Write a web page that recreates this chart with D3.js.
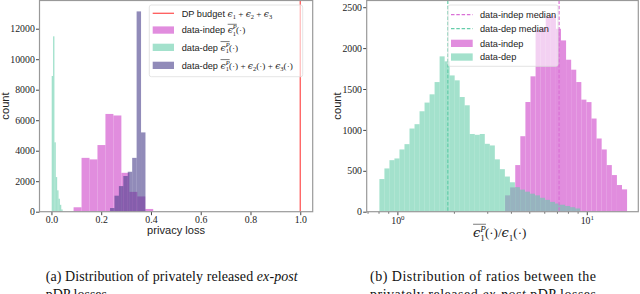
<!DOCTYPE html>
<html>
<head>
<meta charset="utf-8">
<script src="https://cdn.jsdelivr.net/npm/d3@7"></script>
<style>
body { margin: 0; background: #fff; }
svg { display: block; }
</style>
</head>
<body>
<svg id="fig" width="640" height="294"></svg>
<script>
// (a) privacy loss histograms, linear bins: start, width, counts
var depLossStart = 0.001, depLossWidth = 0.0055;
var depLossCounts = [8900, 11500, 4550, 2270, 1400, 850, 450, 150];
var indepLossStart = 0.089, indepLossWidth = 0.032;
var indepLossCounts = [290, 3530, 3430, 4370, 6410, 6310, 2550, 1300, 1000, 180];
var sumLossStart = 0.2355, sumLossWidth = 0.0178;
var sumLossCounts = [240, 1050, 1680, 2340, 2620, 3530, 13135, 5200];
var dpBudget = 1.0;
var lossTicks = [0, 0.2, 0.4, 0.6, 0.8, 1.0];
var leftCountTicks = [0, 2000, 4000, 6000, 8000, 10000, 12000];

// (b) ratio histograms, bins are equal in log10: start, width, counts
var depRatioLogStart = -0.095, depRatioLogWidth = 0.0265;
var depRatioCounts = [399, 529, 630, 651, 761, 826, 1017, 1070, 1228, 1334, 1435, 1585, 1899, 1838,
  1666, 1606, 1402, 1301, 950, 940, 950, 830, 810, 640, 520, 430, 360, 300, 270, 245, 220, 200,
  170, 145, 120, 100, 85, 70, 55, 40];
var indepRatioLogStart = 0.5686, indepRatioLogWidth = 0.02684;
var indepRatioCounts = [200, 297, 570, 923, 1341, 1655, 2224, 2250, 2387, 2400, 2236, 2094, 1858,
  1736, 1585, 1370, 1340, 1139, 895, 761, 570, 448, 326, 273];
var depMedian = 1.846, indepMedian = 7.14;
var ratioTicks = [1, 10];
var ratioMinorTicks = [0.7, 0.8, 0.9, 2, 3, 4, 5, 6, 7, 8, 9];
var rightCountTicks = [0, 500, 1000, 1500, 2000, 2500];

var sansFont = '"Liberation Sans", sans-serif';
var serifFont = '"Liberation Serif", serif';
var mathFont = '"DejaVu Serif", serif';

var pink = "#da70d6", teal = "#66cdaa", purple = "#483d8b";

var svg = d3.select("#fig");

function linBins(start, width, counts) {
  return counts.map(function(n, i) { return {x0: start + i * width, x1: start + (i + 1) * width, n: n}; });
}
function logBins(start, width, counts) {
  return counts.map(function(n, i) {
    return {x0: Math.pow(10, start + i * width), x1: Math.pow(10, start + (i + 1) * width), n: n};
  });
}

function drawHist(g, x, y, bins, color, opacity) {
  g.append("g").selectAll("rect")
    .data(bins)
    .enter()
    .append("rect")
    .attr("x", d => x(d.x0))
    .attr("width", d => x(d.x1) - x(d.x0))
    .attr("y", d => y(d.n))
    .attr("height", d => y(0) - y(d.n))
    .attr("fill", color)
    .attr("fill-opacity", opacity);
}

function styleTicks(g) {
  g.select(".domain").remove();
  g.selectAll(".tick text")
    .style("font-family", serifFont).style("font-size", "9.8px").attr("fill", "#222");
}

// text with sub/superscripts and an optional overline
function mathLabel(parent, x, y, size, segs) {
  var t = parent.append("text").attr("x", x).attr("y", y)
    .attr("font-size", size).style("white-space", "pre").attr("fill", "#222");
  var shift = 0, lastSup = null, ovl = [];
  segs.forEach(function(s) {
    var off = 0;
    if (s.k === "sub") off = size * 0.28;
    if (s.k === "sup") off = -size * 0.42;
    var sp = t.append("tspan").text(s.t).attr("dy", off - shift);
    shift = off;
    if (s.k === "sans") sp.attr("font-family", sansFont);
    else sp.attr("font-family", s.k === "it" ? mathFont : serifFont);
    if (s.k === "it" || s.it) sp.attr("font-style", "italic");
    if (s.k === "sub" || s.k === "sup") sp.attr("font-size", size * 0.7);
    if (s.k === "sup") lastSup = sp.node();
    if (s.stack && lastSup) sp.attr("dx", -lastSup.getComputedTextLength());
    if (s.bar) ovl.push(sp.node());
  });
  if (ovl.length) {
    var x0 = d3.min(ovl, n => n.getStartPositionOfChar(0).x);
    var x1 = d3.max(ovl, n => n.getStartPositionOfChar(0).x + n.getComputedTextLength());
    parent.append("line")
      .attr("x1", x0).attr("x2", x1)
      .attr("y1", y - size * 0.98).attr("y2", y - size * 0.98)
      .attr("stroke", "#222").attr("stroke-width", 0.6);
  }
  return t;
}

function epsBar() {
  return [
    {k: "it", t: "\u03f5", bar: true},
    {k: "sup", t: "P", it: true, bar: true},
    {k: "sub", t: "1", stack: true, bar: true},
    {k: "r", t: "(\u00b7)"}
  ];
}

function spines(g, x0, x1, y0, y1) {
  g.append("rect")
    .attr("x", x0).attr("y", y0)
    .attr("width", x1 - x0).attr("height", y1 - y0)
    .attr("fill", "none").attr("stroke", "#999").attr("stroke-width", 1.2);
}

// ================= (a) =================
var lx = d3.scaleLinear().domain([-0.048, 1.05]).range([39.5, 312.7]);
var ly = d3.scaleLinear().domain([0, 13850]).range([211.7, 0.5]);
var left = svg.append("g");

drawHist(left, lx, ly, linBins(indepLossStart, indepLossWidth, indepLossCounts), pink, 0.8);
drawHist(left, lx, ly, linBins(depLossStart, depLossWidth, depLossCounts), teal, 0.6);
drawHist(left, lx, ly, linBins(sumLossStart, sumLossWidth, sumLossCounts), purple, 0.6);

left.append("line")
  .attr("x1", lx(dpBudget)).attr("x2", lx(dpBudget))
  .attr("y1", ly.range()[1]).attr("y2", ly.range()[0])
  .attr("stroke", "red").attr("stroke-opacity", 0.65).attr("stroke-width", 1.3);

left.append("g").attr("color", "#444")
  .attr("transform", "translate(0,211.7)")
  .call(d3.axisBottom(lx).tickValues(lossTicks).tickFormat(d3.format(".1f")).tickSize(3.5).tickPadding(1))
  .call(styleTicks);

left.append("g").attr("color", "#444")
  .attr("transform", "translate(39.5,0)")
  .call(d3.axisLeft(ly).tickValues(leftCountTicks).tickFormat(d3.format("d")).tickSize(3.5).tickPadding(1.2))
  .call(styleTicks);

spines(left, 39.5, 312.7, 0.5, 211.7);

left.append("text")
  .attr("transform", "translate(9.3,106) rotate(-90)")
  .attr("text-anchor", "middle")
  .attr("font-family", sansFont).attr("font-size", 11.2).attr("fill", "#222")
  .text("count");

left.append("text")
  .attr("x", (39.5 + 312.7) / 2).attr("y", 234.2)
  .attr("text-anchor", "middle")
  .attr("font-family", sansFont).attr("font-size", 11.1).attr("fill", "#222")
  .text("privacy loss");

// legend (a)
var legA = left.append("g");
legA.append("rect")
  .attr("x", 149.3).attr("y", 5).attr("width", 153.4).attr("height", 71.7).attr("rx", 2)
  .attr("fill", "#fff").attr("fill-opacity", 0.6).attr("stroke", "#ddd").attr("stroke-width", 0.8);
legA.append("line").attr("x1", 152.7).attr("x2", 174).attr("y1", 13.3).attr("y2", 13.3)
  .attr("stroke", "red").attr("stroke-opacity", 0.65).attr("stroke-width", 1.3);
[[30, pink, 0.8], [47.3, teal, 0.6], [65.3, purple, 0.6]].forEach(function(h) {
  legA.append("rect").attr("x", 152.7).attr("y", h[0] - 3.6).attr("width", 21.3).attr("height", 7.3)
    .attr("fill", h[1]).attr("fill-opacity", h[2]);
});
var lfs = 9.2;
mathLabel(legA, 181.7, 16.6, lfs, [
  {k: "sans", t: "DP budget "},
  {k: "it", t: "\u03f5"}, {k: "sub", t: "1"}, {k: "r", t: " + "},
  {k: "it", t: "\u03f5"}, {k: "sub", t: "2"}, {k: "r", t: " + "},
  {k: "it", t: "\u03f5"}, {k: "sub", t: "3"}
]);
mathLabel(legA, 181.7, 33.3, lfs, [{k: "sans", t: "data-indep "}].concat(epsBar()));
mathLabel(legA, 181.7, 50.6, lfs, [{k: "sans", t: "data-dep "}].concat(epsBar()));
mathLabel(legA, 181.7, 68.6, lfs, [{k: "sans", t: "data-dep "}].concat(epsBar()).concat([
  {k: "r", t: " + "}, {k: "it", t: "\u03f5"}, {k: "sub", t: "2"}, {k: "r", t: "(\u00b7) + "},
  {k: "it", t: "\u03f5"}, {k: "sub", t: "3"}, {k: "r", t: "(\u00b7)"}
]));

// ================= (b) =================
var rx = d3.scaleLog().domain([Math.pow(10, -0.162), Math.pow(10, 1.272)]).range([366.7, 638.3]);
var ry = d3.scaleLinear().domain([0, 2582]).range([211.7, 0.5]);
var right = svg.append("g");

drawHist(right, rx, ry, logBins(indepRatioLogStart, indepRatioLogWidth, indepRatioCounts), pink, 0.8);
drawHist(right, rx, ry, logBins(depRatioLogStart, depRatioLogWidth, depRatioCounts), teal, 0.6);

[[indepMedian, pink], [depMedian, teal]].forEach(function(m) {
  right.append("line")
    .attr("x1", rx(m[0])).attr("x2", rx(m[0]))
    .attr("y1", ry.range()[1]).attr("y2", ry.range()[0])
    .attr("stroke", m[1]).attr("stroke-width", 1.2).attr("stroke-dasharray", "3.5,1.8");
});

var rxAxis = right.append("g").attr("color", "#444")
  .attr("transform", "translate(0,211.7)")
  .call(d3.axisBottom(rx).tickValues(ratioTicks).tickFormat("").tickSize(3.5))
  .call(styleTicks);
rxAxis.selectAll(".tick").each(function(d) {
  var t = d3.select(this).append("text").attr("y", 12.5).attr("text-anchor", "middle")
    .attr("fill", "#222").style("font-family", serifFont).style("font-size", "9.8px");
  t.append("tspan").text("10");
  t.append("tspan").text(String(Math.round(Math.log10(d))))
    .attr("dy", -3.8).style("font-size", "6.9px");
});
rxAxis.selectAll(".minor").data(ratioMinorTicks).enter().append("line")
  .attr("x1", d => rx(d)).attr("x2", d => rx(d))
  .attr("y1", 0).attr("y2", 2).attr("stroke", "#444").attr("stroke-width", 0.8);

right.append("g").attr("color", "#444")
  .attr("transform", "translate(366.7,0)")
  .call(d3.axisLeft(ry).tickValues(rightCountTicks).tickFormat(d3.format("d")).tickSize(3.5).tickPadding(1.2))
  .call(styleTicks);

spines(right, 366.7, 638.3, 0.5, 211.7);

right.append("text")
  .attr("transform", "translate(340.5,106) rotate(-90)")
  .attr("text-anchor", "middle")
  .attr("font-family", sansFont).attr("font-size", 11.2).attr("fill", "#222")
  .text("count");

var xlab = right.append("g");
var xl = mathLabel(xlab, 0, 237, 13, epsBar().concat([
  {k: "r", t: "/"}, {k: "it", t: "\u03f5"}, {k: "sub", t: "1"}, {k: "r", t: "(\u00b7)"}
]));
var xw = xl.node().getComputedTextLength();
xlab.attr("transform", "translate(" + ((366.7 + 638.3) / 2 - xw / 2) + ",0)");

// legend (b)
var legB = right.append("g");
legB.append("rect")
  .attr("x", 448).attr("y", 5).attr("width", 110).attr("height", 61.3).attr("rx", 2)
  .attr("fill", "#fff").attr("fill-opacity", 0.6).attr("stroke", "#ddd").attr("stroke-width", 0.8);
[[14.7, pink], [28.7, teal]].forEach(function(h) {
  legB.append("line").attr("x1", 451).attr("x2", 472.7).attr("y1", h[0]).attr("y2", h[0])
    .attr("stroke", h[1]).attr("stroke-width", 1.2).attr("stroke-dasharray", "3.5,1.8");
});
[[43.3, pink, 0.8], [57, teal, 0.6]].forEach(function(h) {
  legB.append("rect").attr("x", 451).attr("y", h[0] - 3.6).attr("width", 21.7).attr("height", 7.3)
    .attr("fill", h[1]).attr("fill-opacity", h[2]);
});
["data-indep median", "data-dep median", "data-indep", "data-dep"].forEach(function(s, i) {
  legB.append("text").attr("x", 480).attr("y", [14.7, 28.7, 43.3, 57][i] + 3.3)
    .attr("font-family", sansFont).attr("font-size", lfs).attr("fill", "#222").text(s);
});

// ================= captions =================
function caption(x, y, parts, len) {
  var t = svg.append("text").attr("x", x).attr("y", y)
    .attr("font-family", serifFont).attr("font-size", 14).attr("fill", "#111")
    .style("white-space", "pre");
  parts.forEach(function(p) {
    t.append("tspan").text(p[0]).attr("font-style", p[1] ? "italic" : "normal");
  });
  if (len) t.attr("textLength", len).attr("lengthAdjust", "spacing");
}
caption(45.7, 281, [["(a) Distribution of privately released "], ["ex-post", true]], 252);
caption(45.7, 299, [["pDP losses"]]);
caption(370, 281, [["(b) Distribution of ratios between the"]], 226);
caption(370, 299, [["privately released "], ["ex-post", true], [" pDP losses"]], 226);
</script>
</body>
</html>
